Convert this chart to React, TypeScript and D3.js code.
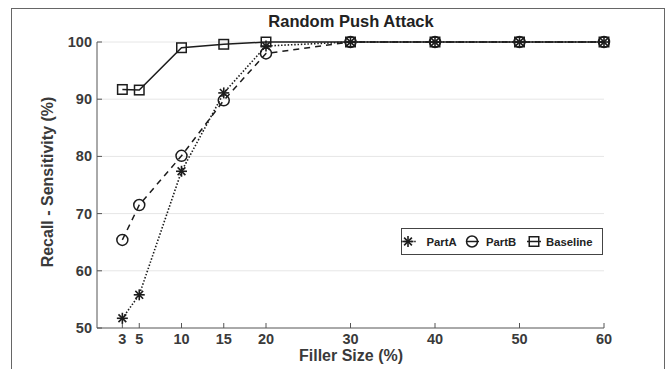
import React from "react";
import * as d3 from "d3";

const fillerSizes = [3, 5, 10, 15, 20, 30, 40, 50, 60];
const partA = [51.7, 55.8, 77.4, 91.1, 99.3, 100, 100, 100, 100];
const partB = [65.4, 71.5, 80.1, 89.8, 98.0, 100, 100, 100, 100];
const baseline = [91.7, 91.6, 99.0, 99.6, 100, 100, 100, 100, 100];
const xTicks = [3, 5, 10, 15, 20, 30, 40, 50, 60];
const yTicks = [50, 60, 70, 80, 90, 100];
const seriesNames = ["PartA", "PartB", "Baseline"];

const W = 671;
const H = 369;
const FONT = "'Liberation Sans', Arial, sans-serif";
const INK = "#1c1c1c";

function Asterisk({ x, y, r }: { x: number; y: number; r: number }) {
  const lines = [0, 45, 90, 135].map((a) => {
    const rad = (a * Math.PI) / 180;
    return (
      <line
        key={a}
        x1={x - r * Math.cos(rad)}
        y1={y - r * Math.sin(rad)}
        x2={x + r * Math.cos(rad)}
        y2={y + r * Math.sin(rad)}
        stroke={INK}
        strokeWidth={1.6}
      />
    );
  });
  return <g>{lines}</g>;
}

export default function App() {
  const x = d3.scaleLinear().domain([0, 60]).range([97, 604]);
  const y = d3.scaleLinear().domain([50, 100]).range([328, 42]);
  const line = d3
    .line<number>()
    .x((_, i) => x(fillerSizes[i]))
    .y((d) => y(d));

  const legendY = 241.5;

  return (
    <svg
      width={W}
      height={H}
      style={{ position: "absolute", left: 0, top: 0, background: "#fff" }}
      fontFamily={FONT}
    >
      <rect x={0} y={0} width={W} height={H} fill="#fff" />
      <rect x={11.5} y={8.5} width={653} height={380} fill="none" stroke="#666" strokeWidth={1} />

      {/* gridlines */}
      {yTicks
        .filter((t) => t > 50)
        .map((t) => (
          <line key={t} x1={97} x2={604} y1={y(t)} y2={y(t)} stroke="#e6e6e6" strokeWidth={1} />
        ))}

      {/* axes */}
      <line x1={97} x2={97} y1={y(100)} y2={y(50)} stroke="#555" strokeWidth={1} />
      <line x1={97} x2={604} y1={y(50)} y2={y(50)} stroke="#555" strokeWidth={1} />
      {xTicks.map((t) => (
        <g key={t}>
          <line x1={x(t)} x2={x(t)} y1={y(50)} y2={y(50) - 5} stroke="#555" strokeWidth={1} />
          <text x={x(t)} y={344} textAnchor="middle" fontSize={14.5} fontWeight="bold" fill="#3a3a3a">
            {t}
          </text>
        </g>
      ))}
      {yTicks.map((t) => (
        <g key={t}>
          <line x1={97} x2={102} y1={y(t)} y2={y(t)} stroke="#555" strokeWidth={1} />
          <text x={92} y={y(t) + 5} textAnchor="end" fontSize={14.5} fontWeight="bold" fill="#3a3a3a">
            {t}
          </text>
        </g>
      ))}

      {/* titles */}
      <text x={351} y={27} textAnchor="middle" fontSize={16.5} fontWeight="bold" fill="#222">
        Random Push Attack
      </text>
      <text x={351} y={361} textAnchor="middle" fontSize={16} fontWeight="bold" fill="#3a3a3a">
        Filler Size (%)
      </text>
      <text
        transform={`translate(53,182) rotate(-90)`}
        textAnchor="middle"
        fontSize={16}
        fontWeight="bold"
        fill="#3a3a3a"
      >
        Recall - Sensitivity (%)
      </text>

      {/* lines */}
      <path d={line(baseline) || ""} fill="none" stroke={INK} strokeWidth={1.5} />
      <path d={line(partB) || ""} fill="none" stroke={INK} strokeWidth={1.5} strokeDasharray="6,5" />
      <path d={line(partA) || ""} fill="none" stroke={INK} strokeWidth={1.6} strokeDasharray="1.5,1.8" />

      {/* markers */}
      {baseline.map((v, i) => (
        <rect
          key={"b" + i}
          x={x(fillerSizes[i]) - 4.75}
          y={y(v) - 4.75}
          width={9.5}
          height={9.5}
          fill="none"
          stroke={INK}
          strokeWidth={1.5}
        />
      ))}
      {partB.map((v, i) => (
        <circle key={"c" + i} cx={x(fillerSizes[i])} cy={y(v)} r={5.5} fill="none" stroke={INK} strokeWidth={1.5} />
      ))}
      {partA.map((v, i) => (
        <Asterisk key={"a" + i} x={x(fillerSizes[i])} y={y(v)} r={5.5} />
      ))}

      {/* legend */}
      <rect x={401.5} y={228.5} width={201} height={26} fill="#fff" stroke="#444" strokeWidth={1} />
      <line x1={401 + 0} x2={416} y1={legendY} y2={legendY} stroke={INK} strokeWidth={1.5} strokeDasharray="1.5,1.8" />
      <Asterisk x={408} y={legendY} r={5.5} />
      <text x={426.5} y={legendY + 4} fontSize={11.3} fontWeight="bold" fill="#222">
        {seriesNames[0]}
      </text>
      <line x1={466} x2={479} y1={legendY} y2={legendY} stroke={INK} strokeWidth={1.5} />
      <circle cx={472} cy={legendY} r={5.5} fill="none" stroke={INK} strokeWidth={1.5} />
      <text x={486} y={legendY + 4} fontSize={11.3} fontWeight="bold" fill="#222">
        {seriesNames[1]}
      </text>
      <line x1={527} x2={541} y1={legendY} y2={legendY} stroke={INK} strokeWidth={1.5} />
      <rect x={534 - 4.75} y={legendY - 4.75} width={9.5} height={9.5} fill="none" stroke={INK} strokeWidth={1.5} />
      <text x={546} y={legendY + 4} fontSize={11.3} fontWeight="bold" fill="#222">
        {seriesNames[2]}
      </text>
    </svg>
  );
}
